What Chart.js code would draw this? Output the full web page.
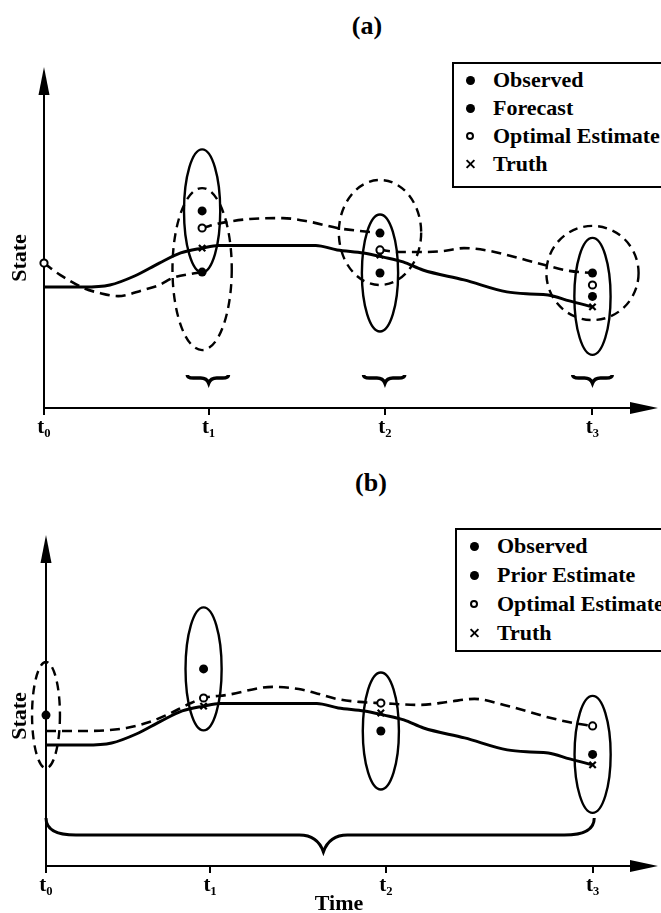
<!DOCTYPE html>
<html lang="en">
<head>
<meta charset="utf-8">
<title>Filter and smoother schematic</title>
<script src="https://cdn.jsdelivr.net/npm/chart.js@4.4.1/dist/chart.umd.min.js"></script>
<style>
  html, body { margin: 0; padding: 0; background: #fff; }
  body { position: relative; width: 661px; height: 913px; overflow: hidden;
         font-family: "Liberation Serif", "Times New Roman", serif; color: #000; }
  canvas { position: absolute; left: 0; }
  #chart-a { top: 0; }
  #chart-b { top: 458px; }
  .panel-tag { position: absolute; font-size: 26px; font-weight: bold; line-height: 26px;
               transform: translate(-50%, -50%); white-space: nowrap; }
  .legend { position: absolute; box-sizing: border-box; width: 230px;
            border: 2px solid #000; border-right: 0; background: #fff; }
  .legend .item { position: absolute; height: 22px; line-height: 22px; font-size: 22px;
                  font-weight: bold; white-space: nowrap; }
  .legend .mark { position: absolute; box-sizing: border-box; }
  .mark.dot { width: 9px; height: 9px; border-radius: 50%; background: #000; }
  .mark.ring { width: 8px; height: 8px; border-radius: 50%; border: 2px solid #000; background: #fff; }
  .mark.cross { width: 9px; height: 9px; }
  .mark.cross::before, .mark.cross::after { content: ""; position: absolute; left: -1px; top: 3.5px;
                                            width: 11px; height: 2px; background: #000; }
  .mark.cross::before { transform: rotate(45deg); }
  .mark.cross::after { transform: rotate(-45deg); }
</style>
</head>
<body>
<div class="panel-tag" style="left:367px; top:26px;">(a)</div>
<canvas id="chart-a" width="661" height="456"></canvas>
<div class="legend" id="legend-a" style="left:452px; top:62px; height:126px;"></div>

<div class="panel-tag" style="left:371px; top:483px;">(b)</div>
<canvas id="chart-b" width="661" height="455"></canvas>
<div class="legend" id="legend-b" style="left:455px; top:528px; height:124px;"></div>

<script>
// --- axes ---
const tickTimes = [0, 1.0, 2.07, 3.33];
const tickLabels = ['t₀', 't₁', 't₂', 't₃'];
const timeMax = 3.57;
const stateMax = 10;

// --- truth trajectory (same in both panels) ---
const truthTimes = [0, 0.24, 0.40, 0.55, 0.70, 0.83, 0.96, 1.06, 1.65, 1.78, 1.94, 2.06, 2.18, 2.30, 2.55, 2.81, 2.95, 3.06, 3.19, 3.33];
const truthState = [4.03, 4.03, 4.10, 4.40, 4.83, 5.17, 5.33, 5.42, 5.42, 5.27, 5.17, 5.03, 4.87, 4.60, 4.27, 3.87, 3.80, 3.77, 3.57, 3.37];

// --- observations ---
const obsTimes = [0.96, 2.04, 3.33];
const observed = [6.57, 4.50, 3.72];
const truthAtObs = [5.33, 5.10, 3.37];
const obsErrHalfTime = [0.11, 0.11, 0.11];
const obsErrHalfState = [2.05, 1.95, 1.95];

// --- (a) filter ---
const forecastA = [4.53, 5.83, 4.50];
const optimalTimesA = [0, 0.96, 2.04, 3.33];
const optimalA = [4.83, 6.00, 5.27, 4.10];
const fcstErrCenterA = [4.63, 5.85, 4.50];
const fcstErrHalfTimeA = [0.18, 0.25, 0.28];
const fcstErrHalfStateA = [2.70, 1.75, 1.57];

const fcst1Times = [0, 0.10, 0.24, 0.34, 0.45, 0.60, 0.70, 0.78, 0.89, 0.96];
const fcst1State = [4.83, 4.43, 4.00, 3.83, 3.73, 3.93, 4.10, 4.33, 4.47, 4.53];
const fcst2Times = [0.96, 1.08, 1.25, 1.45, 1.62, 1.78, 1.92, 2.04];
const fcst2State = [6.00, 6.17, 6.30, 6.33, 6.20, 6.00, 5.90, 5.83];
const fcst3Times = [2.04, 2.16, 2.30, 2.42, 2.55, 2.71, 2.81, 3.04, 3.19, 3.33];
const fcst3State = [5.27, 5.20, 5.20, 5.23, 5.33, 5.23, 5.10, 4.77, 4.57, 4.50];

const braceFromA = [0.87, 1.94, 3.21];
const braceToA = [1.12, 2.19, 3.45];
const braceTipA = [1.00, 2.07, 3.33];

// --- (b) smoother ---
const priorTimesB = [0];
const priorB = [5.03];
const priorErrHalfTimeB = [0.085];
const priorErrHalfStateB = [1.77];
const optimalB = [5.60, 5.43, 4.67];
const smoothTimesB = [0, 0.23, 0.49, 0.63, 0.75, 0.87, 0.96, 1.10, 1.38, 1.54, 1.64, 1.77, 1.91, 2.04, 2.28, 2.45, 2.61, 2.79, 3.05, 3.21, 3.33];
const smoothB = [4.50, 4.50, 4.60, 4.80, 5.07, 5.40, 5.60, 5.70, 5.97, 5.90, 5.77, 5.57, 5.47, 5.43, 5.37, 5.47, 5.57, 5.37, 4.97, 4.77, 4.67];
const braceFromB = [0];
const braceToB = [3.34];
const braceTipB = [1.69];

const legendA = ['Observed', 'Forecast', 'Optimal Estimate', 'Truth'];
const legendB = ['Observed', 'Prior Estimate', 'Optimal Estimate', 'Truth'];
const legendKinds = ['dot', 'dot', 'ring', 'cross'];

const FONT = '"Liberation Serif", "Times New Roman", serif';
const pts = (xs, ys) => xs.map((x, i) => ({ x, y: ys[i] }));

function markerSet(label, data, kind) {
    const base = { label, data, showLine: false, clip: false, pointBorderColor: '#000' };
    if (kind === 'dot') return { ...base, pointStyle: 'circle', pointRadius: 4.5, pointBackgroundColor: '#000', pointBorderWidth: 0 };
    if (kind === 'ring') return { ...base, pointStyle: 'circle', pointRadius: 3.6, pointBackgroundColor: '#fff', pointBorderWidth: 2 };
    return { ...base, pointStyle: 'crossRot', pointRadius: 4.5, pointBorderWidth: 2.2 };
}

function lineSet(label, data, dashed) {
    return {
        label, data, showLine: true, clip: false, pointRadius: 0, fill: false,
        borderColor: '#000', borderWidth: dashed ? 2.6 : 3, borderDash: dashed ? [10, 6] : [],
        cubicInterpolationMode: 'monotone'
    };
}

// ellipses, braces and axis arrows, all placed through the chart scales
function sketchPlugin(shapes) {
    return {
        id: 'sketch',
        beforeDatasetsDraw(chart) {
            const { ctx, scales: { x, y } } = chart;
            ctx.save();
            ctx.strokeStyle = '#000';
            shapes.ellipses.forEach(e => {
                ctx.lineWidth = 2.4;
                ctx.setLineDash(e.dashed ? [9, 6] : []);
                const cx = x.getPixelForValue(e.t), cy = y.getPixelForValue(e.s);
                const rx = Math.abs(x.getPixelForValue(e.t + e.ht) - cx);
                const ry = Math.abs(y.getPixelForValue(e.s + e.hs) - cy);
                ctx.beginPath();
                ctx.ellipse(cx, cy, rx, ry, 0, 0, Math.PI * 2);
                ctx.stroke();
            });
            ctx.setLineDash([]);
            shapes.braces.forEach(b => {
                const x1 = x.getPixelForValue(b.from), x2 = x.getPixelForValue(b.to), xm = x.getPixelForValue(b.tip);
                const yb = y.getPixelForValue(b.body), ye = y.getPixelForValue(b.ends), yt = y.getPixelForValue(b.point);
                ctx.lineWidth = b.width;
                ctx.beginPath();
                ctx.moveTo(x1, ye);
                ctx.quadraticCurveTo(x1, yb, x1 + b.curl, yb);
                ctx.lineTo(xm - b.span, yb);
                ctx.quadraticCurveTo(xm - b.span * 0.25, yb, xm, yt);
                ctx.quadraticCurveTo(xm + b.span * 0.25, yb, xm + b.span, yb);
                ctx.lineTo(x2 - b.curl, yb);
                ctx.quadraticCurveTo(x2, yb, x2, ye);
                ctx.stroke();
            });
            ctx.restore();
        },
        afterDraw(chart) {
            const { ctx, chartArea: { left, top, right, bottom } } = chart;
            const tip = shapes.arrowTip;
            ctx.save();
            ctx.strokeStyle = '#000';
            ctx.fillStyle = '#000';
            ctx.lineWidth = 2;
            ctx.beginPath();
            ctx.moveTo(left, top + 1);
            ctx.lineTo(left, tip + 20);
            ctx.stroke();
            ctx.beginPath();
            ctx.moveTo(left, tip);
            ctx.lineTo(left - 5.5, tip + 28);
            ctx.lineTo(left + 5.5, tip + 28);
            ctx.closePath();
            ctx.fill();
            ctx.beginPath();
            ctx.moveTo(right - 2, bottom - 6);
            ctx.lineTo(right + 26, bottom);
            ctx.lineTo(right - 2, bottom + 6);
            ctx.closePath();
            ctx.fill();
            ctx.restore();
        }
    };
}

function buildChart(id, datasets, opts) {
    return new Chart(document.getElementById(id), {
        type: 'scatter',
        data: { datasets },
        options: {
            responsive: false,
            animation: false,
            events: [],
            layout: { padding: { left: 0, top: 108, right: 29, bottom: 0 } },
            plugins: { legend: { display: false }, tooltip: { enabled: false }, title: { display: false } },
            scales: {
                x: {
                    type: 'linear', min: 0, max: timeMax,
                    afterBuildTicks: s => { s.ticks = tickTimes.map(v => ({ value: v })); },
                    afterFit: s => { s.height = opts.xHeight; },
                    ticks: {
                        autoSkip: false, maxRotation: 0, padding: 2, color: '#000',
                        font: { family: FONT, size: 21, weight: 'bold', lineHeight: 1 },
                        callback: (v, i) => tickLabels[i]
                    },
                    grid: { display: true, drawOnChartArea: false, drawTicks: true, tickLength: 7, color: '#000', lineWidth: 2 },
                    border: { display: true, color: '#000', width: 2 },
                    title: {
                        display: !!opts.xTitle, text: opts.xTitle || '', color: '#000',
                        padding: { top: 0, bottom: 0 },
                        font: { family: FONT, size: 22, weight: 'bold', lineHeight: 0.8 }
                    }
                },
                y: {
                    type: 'linear', min: 0, max: stateMax,
                    afterFit: s => { s.width = opts.yWidth; },
                    ticks: { display: false },
                    grid: { display: false },
                    border: { display: true, color: '#000', width: 2 },
                    title: {
                        display: true, text: 'State', color: '#000',
                        padding: { top: 9, bottom: 0 },
                        font: { family: FONT, size: 22, weight: 'bold', lineHeight: 1 }
                    }
                }
            }
        },
        plugins: [sketchPlugin(opts.shapes)]
    });
}

function buildLegend(id, labels, kinds, markX, textX, firstY, gap) {
    const box = document.getElementById(id);
    labels.forEach((txt, i) => {
        const cy = firstY + i * gap;
        const size = kinds[i] === 'ring' ? 8 : 9;
        const mk = document.createElement('span');
        mk.className = 'mark ' + kinds[i];
        mk.style.left = (markX - size / 2) + 'px';
        mk.style.top = (cy - size / 2) + 'px';
        box.appendChild(mk);
        const it = document.createElement('div');
        it.className = 'item';
        it.textContent = txt;
        it.style.left = textX + 'px';
        it.style.top = (cy - 11) + 'px';
        box.appendChild(it);
    });
}

// --- panel (a) ---
const ellipsesA = obsTimes.map((t, i) => ({ t, s: observed[i], ht: obsErrHalfTime[i], hs: obsErrHalfState[i], dashed: false }))
    .concat(obsTimes.map((t, i) => ({ t, s: fcstErrCenterA[i], ht: fcstErrHalfTimeA[i], hs: fcstErrHalfStateA[i], dashed: true })));
const bracesA = braceFromA.map((f, i) => ({
    from: f, to: braceToA[i], tip: braceTipA[i], body: 1.0, ends: 1.1, point: 0.83, curl: 6, span: 8, width: 3.5
}));

buildChart('chart-a', [
    markerSet('Optimal Estimate', pts(optimalTimesA, optimalA), 'ring'),
    markerSet('Observed', pts(obsTimes, observed), 'dot'),
    markerSet('Forecast', pts(obsTimes, forecastA), 'dot'),
    markerSet('Truth', pts(obsTimes, truthAtObs), 'cross'),
    lineSet('Forecast 1', pts(fcst1Times, fcst1State), true),
    lineSet('Forecast 2', pts(fcst2Times, fcst2State), true),
    lineSet('Forecast 3', pts(fcst3Times, fcst3State), true),
    lineSet('Truth path', pts(truthTimes, truthState), false)
], { xHeight: 48, yWidth: 44, shapes: { ellipses: ellipsesA, braces: bracesA, arrowTip: 67 } });

// --- panel (b) ---
const ellipsesB = obsTimes.map((t, i) => ({ t, s: observed[i], ht: obsErrHalfTime[i], hs: obsErrHalfState[i], dashed: false }))
    .concat(priorTimesB.map((t, i) => ({ t, s: priorB[i], ht: priorErrHalfTimeB[i], hs: priorErrHalfStateB[i], dashed: true })));
const bracesB = braceFromB.map((f, i) => ({
    from: f, to: braceToB[i], tip: braceTipB[i], body: 1.03, ends: 1.6, point: 0.47, curl: 30, span: 24, width: 3
}));

buildChart('chart-b', [
    markerSet('Optimal Estimate', pts(obsTimes, optimalB), 'ring'),
    markerSet('Observed', pts(obsTimes, observed), 'dot'),
    markerSet('Prior Estimate', pts(priorTimesB, priorB), 'dot'),
    markerSet('Truth', pts(obsTimes, truthAtObs), 'cross'),
    lineSet('Smoothed', pts(smoothTimesB, smoothB), true),
    lineSet('Truth path', pts(truthTimes, truthState), false)
], { xHeight: 47, yWidth: 46, xTitle: 'Time', shapes: { ellipses: ellipsesB, braces: bracesB, arrowTip: 77 } });

buildLegend('legend-a', legendA, legendKinds, 16, 39, 16, 28);
buildLegend('legend-b', legendB, legendKinds, 17, 40, 16, 29);
</script>
</body>
</html>
